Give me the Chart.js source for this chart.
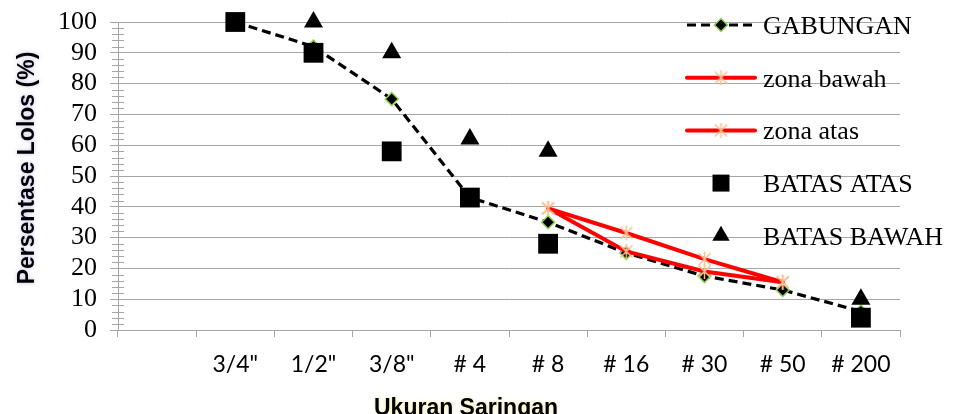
<!DOCTYPE html>
<html>
<head>
<meta charset="utf-8">
<script src="https://cdn.jsdelivr.net/npm/chart.js@4"></script>
<style>
  html, body { margin: 0; padding: 0; background: #fff; overflow: hidden; }
  #chart { display: block; }
</style>
</head>
<body>
<canvas id="chart" width="961" height="414"></canvas>
<script>
// ukuran saringan (slot pertama memang kosong di grafik asli)
const categories = ['', '3/4"', '1/2"', '3/8"', '# 4', '# 8', '# 16', '# 30', '# 50', '# 200'];

// persentase lolos
const gabungan   = [null, 100, 92, 75, 43, 35, 25, 17.5, 13, 6];
const zonaBawah  = [null, null, null, null, null, 39.5, 25.5, 19, 15.5, null];
const zonaAtas   = [null, null, null, null, null, 39.5, 31.5, 23, 15.5, null];
const batasAtas  = [null, 100, 90, 58, 43, 28, null, null, null, 4];
const batasBawah = [null, null, 100, 90, 62, 58, null, null, null, 10];

const yMin = 0;
const yMax = 100;
const yStep = 10;
const yMinorStep = 2;

const yTitle = 'Persentase Lolos (%)';
const xTitle = 'Ukuran Saringan';

const GRID = '#a6a6a6';
const STAR = '#fac090';


// marker bintang gaya excel (X + garis tegak)
function makeStar(size) {
    const c = document.createElement('canvas');
    c.width = size;
    c.height = size;
    const g = c.getContext('2d');
    const m = size / 2;
    const r = size / 2 - 1;
    g.strokeStyle = STAR;
    g.lineWidth = 1.5;
    g.beginPath();
    g.moveTo(m - r * 0.8, m - r * 0.8);
    g.lineTo(m + r * 0.8, m + r * 0.8);
    g.moveTo(m + r * 0.8, m - r * 0.8);
    g.lineTo(m - r * 0.8, m + r * 0.8);
    g.moveTo(m, m - r);
    g.lineTo(m, m + r);
    g.stroke();
    return c;
}
const starMarker = makeStar(17);


// tick kecil di sumbu Y
const minorTicks = {
    id: 'minorTicks',
    beforeDatasetsDraw(chart) {
        const ctx = chart.ctx;
        const y = chart.scales.y;
        const x0 = chart.chartArea.left;
        ctx.save();
        ctx.strokeStyle = GRID;
        ctx.lineWidth = 1;
        for (let v = yMin; v <= yMax; v += yMinorStep) {
            if (v % yStep === 0) continue;
            const py = Math.round(y.getPixelForValue(v)) + 0.5;
            ctx.beginPath();
            ctx.moveTo(x0 - 6, py);
            ctx.lineTo(x0 + 6, py);
            ctx.stroke();
        }
        ctx.restore();
    }
};


// judul sumbu
const axisTitles = {
    id: 'axisTitles',
    afterDraw(chart) {
        const ctx = chart.ctx;
        ctx.save();
        ctx.fillStyle = '#000';
        ctx.font = 'bold 23px "Liberation Sans", Arial, sans-serif';
        ctx.textAlign = 'center';
        ctx.textBaseline = 'middle';
        ctx.shadowColor = 'rgba(150,140,220,0.55)';
        ctx.shadowBlur = 4;
        ctx.translate(28, 168);
        ctx.rotate(-Math.PI / 2);
        ctx.fillText(yTitle, 0, 0);
        ctx.restore();

        ctx.save();
        ctx.fillStyle = '#000';
        ctx.font = 'bold 23px "Liberation Sans", Arial, sans-serif';
        ctx.textAlign = 'center';
        ctx.textBaseline = 'alphabetic';
        ctx.shadowColor = 'rgba(240,220,100,0.6)';
        ctx.shadowBlur = 4;
        ctx.fillText(xTitle, 466, 415);
        ctx.restore();
    }
};


// legenda di kanan, menumpuk di atas area plot
const sideLegend = {
    id: 'sideLegend',
    afterDraw(chart) {
        const ctx = chart.ctx;
        const lineX0 = 687, lineX1 = 755, textX = 763;

        chart.data.datasets.forEach((ds, i) => {
            const y = 25 + i * 52.7;
            ctx.save();

            if (ds.showLine !== false) {
                ctx.strokeStyle = ds.borderColor;
                ctx.lineWidth = ds.borderWidth;
                ctx.lineCap = ds.borderCapStyle || 'butt';
                ctx.setLineDash(ds.borderDash || []);
                ctx.beginPath();
                ctx.moveTo(lineX0, y);
                ctx.lineTo(lineX1, y);
                ctx.stroke();
                ctx.setLineDash([]);
            }

            const mx = (lineX0 + lineX1) / 2;
            ctx.fillStyle = ds.pointBackgroundColor;
            ctx.strokeStyle = ds.pointBorderColor;
            ctx.lineWidth = ds.pointBorderWidth;
            Chart.helpers.drawPoint(ctx, {
                pointStyle: ds.pointStyle,
                radius: ds.legendRadius || ds.pointRadius,
                rotation: 0,
                borderWidth: ds.pointBorderWidth
            }, mx, y);

            ctx.fillStyle = '#000';
            ctx.font = '26px "Liberation Serif", "Times New Roman", serif';
            ctx.textAlign = 'left';
            ctx.textBaseline = 'middle';
            ctx.fillText(ds.label, textX, y + 2);
            ctx.restore();
        });
    }
};


const ctx = document.getElementById('chart');

new Chart(ctx, {
    type: 'line',
    data: {
        labels: categories,
        datasets: [
            {
                label: 'GABUNGAN',
                data: gabungan,
                order: 5,
                clip: false,
                borderColor: '#000',
                borderWidth: 3.2,
                borderDash: [9, 5],
                pointStyle: 'rectRot',
                pointRadius: 6.5,
                legendRadius: 6.5,
                pointBackgroundColor: '#000',
                pointBorderColor: '#8fd14f',
                pointBorderWidth: 1.5,
                tension: 0
            },
            {
                label: 'zona bawah',
                data: zonaBawah,
                order: 4,
                clip: false,
                borderColor: '#ff0000',
                borderWidth: 4,
                borderCapStyle: 'round',
                pointStyle: starMarker,
                pointRadius: 8,
                pointBackgroundColor: STAR,
                pointBorderColor: STAR,
                pointBorderWidth: 1.5,
                spanGaps: false
            },
            {
                label: 'zona atas',
                data: zonaAtas,
                order: 3,
                clip: false,
                borderColor: '#ff0000',
                borderWidth: 4,
                borderCapStyle: 'round',
                pointStyle: starMarker,
                pointRadius: 8,
                pointBackgroundColor: STAR,
                pointBorderColor: STAR,
                pointBorderWidth: 1.5,
                spanGaps: false
            },
            {
                label: 'BATAS ATAS',
                data: batasAtas,
                order: 2,
                clip: false,
                showLine: false,
                borderColor: '#000',
                pointStyle: 'rect',
                pointRadius: 14,
                legendRadius: 12,
                pointBackgroundColor: '#000',
                pointBorderColor: '#000',
                pointBorderWidth: 0
            },
            {
                label: 'BATAS BAWAH',
                data: batasBawah,
                order: 1,
                clip: false,
                showLine: false,
                borderColor: '#000',
                pointStyle: 'triangle',
                pointRadius: 11,
                legendRadius: 10,
                pointBackgroundColor: '#000',
                pointBorderColor: '#000',
                pointBorderWidth: 0
            }
        ]
    },
    options: {
        responsive: false,
        animation: false,
        devicePixelRatio: 1,
        layout: {
            padding: { left: 0, right: 61, top: 22, bottom: 0 }
        },
        plugins: {
            legend: { display: false },
            tooltip: { enabled: false },
            title: { display: false }
        },
        elements: {
            point: { hoverRadius: 0 }
        },
        scales: {
            x: {
                offset: true,
                grid: {
                    offset: true,
                    drawOnChartArea: false,
                    drawTicks: true,
                    tickLength: 7,
                    color: GRID
                },
                border: { color: GRID, width: 1 },
                ticks: {
                    color: '#000',
                    padding: 14,
                    maxRotation: 0,
                    autoSkip: false,
                    font: { family: 'Lato, "Open Sans", sans-serif', size: 23 }
                },
                afterFit(scale) {
                    scale.height = 84;
                }
            },
            y: {
                min: yMin,
                max: yMax,
                grid: {
                    color: GRID,
                    tickLength: 8
                },
                border: { color: GRID, width: 1 },
                ticks: {
                    stepSize: yStep,
                    autoSkip: false,
                    color: '#000',
                    padding: 13,
                    font: { family: '"Liberation Serif", "Times New Roman", serif', size: 26 }
                },
                afterFit(scale) {
                    scale.width = 118;
                    scale.paddingTop = 0;
                    scale.paddingBottom = 0;
                }
            }
        }
    },
    plugins: [minorTicks, axisTitles, sideLegend]
});
</script>
</body>
</html>
